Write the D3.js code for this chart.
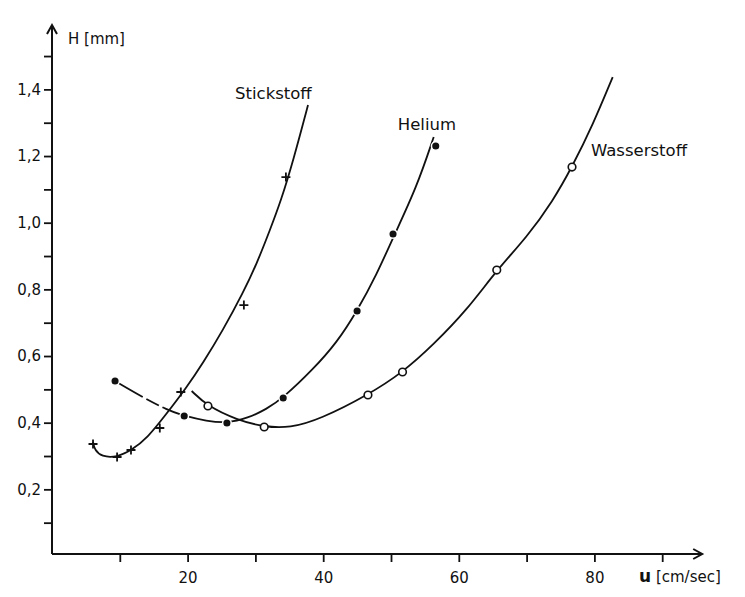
<!DOCTYPE html>
<html><head><meta charset="utf-8">
<script src="https://cdn.jsdelivr.net/npm/d3@7"></script>
<style>body{margin:0;background:#fff}svg{display:block}</style>
</head><body>
<script>
// ---- data ----
const xTicks = [10,20,30,40,50,60,70,80,90];
const xTickLabels = {20:"20",40:"40",60:"60",80:"80"};
const yTicks = [0.1,0.2,0.3,0.4,0.5,0.6,0.7,0.8,0.9,1.0,1.1,1.2,1.3,1.4,1.5];
const yTickLabels = {0.2:"0,2",0.4:"0,4",0.6:"0,6",0.8:"0,8",1.0:"1,0",1.2:"1,2",1.4:"1,4"};

// measured points
const stickstoffPts = [[6.05,0.336],[9.6,0.297],[11.65,0.318],[15.9,0.384],[19.0,0.492],[28.3,0.753],[34.5,1.137]];
const heliumPts = [[9.3,0.525],[19.5,0.42],[25.8,0.399],[34.1,0.474],[45.0,0.735],[50.3,0.966],[56.6,1.23]];
const wasserstoffPts = [[23.0,0.45],[31.3,0.387],[46.6,0.483],[51.7,0.552],[65.6,0.858],[76.7,1.167]];

// hand-drawn fitted curves
const stickstoffCurve = [[6.05,0.342],[6.3,0.318],[7.3,0.298],[9.59,0.296],[11.8,0.318],[14.16,0.357],[16.4,0.414],[19.9,0.507],[22.27,0.579],[25.22,0.678],[28.17,0.789],[30.24,0.879],[32.15,0.978],[33.8,1.068],[35.5,1.18],[37.76,1.353]];
const heliumCurve = [[9.29,0.525],[13.4,0.476],[17.0,0.438],[19.5,0.42],[22.8,0.405],[25.8,0.398],[28.9,0.414],[31.6,0.44],[34.07,0.474],[38.5,0.56],[42.0,0.64],[45.0,0.735],[47.9,0.845],[50.3,0.955],[53.8,1.107],[56.3,1.257]];
const wasserstoffCurve = [[20.6,0.495],[22.9,0.45],[27.3,0.408],[31.3,0.387],[35.1,0.384],[39.5,0.41],[46.6,0.483],[51.8,0.552],[56.2,0.633],[61.2,0.738],[65.6,0.858],[70.06,0.957],[73.9,1.066],[76.7,1.167],[79.8,1.295],[82.7,1.437]];

const seriesLabels = [
  {name:"Stickstoff", x:27.0, y:1.37},
  {name:"Helium", x:51.0, y:1.278},
  {name:"Wasserstoff", x:79.5, y:1.20}
];

// ---- drawing ----
const W=745,H=597;
const svg=d3.select("body").append("svg").attr("width",W).attr("height",H);
const x=d3.scaleLinear().domain([0,10]).range([52,119.8]);
const y=d3.scaleLinear().domain([0,1]).range([556,222.7]);
const font="'DejaVu Sans', sans-serif";
const ink="#111";

const xMax=95.9, yMax=1.593;
// axes
const axes=svg.append("g").attr("stroke",ink).attr("stroke-width",2).attr("fill","none");
axes.append("line").attr("x1",x(0)).attr("x2",x(xMax)).attr("y1",y(0)-2).attr("y2",y(0)-2);
axes.append("line").attr("x1",x(0)).attr("x2",x(0)).attr("y1",y(0)-2).attr("y2",y(yMax));
// arrowheads
const ax=x(xMax), ay=y(0)-2;
axes.append("path").attr("d",`M${ax-9},${ay-5}L${ax},${ay}L${ax-9},${ay+5}`);
const bx=x(0), by=y(yMax);
axes.append("path").attr("d",`M${bx-5},${by+9}L${bx},${by}L${bx+5},${by+9}`);

// x ticks
const xAxis=d3.axisBottom(x).tickValues(xTicks).tickSize(8).tickFormat(d=>xTickLabels[d]||"");
const gx=svg.append("g").attr("transform",`translate(0,${y(0)-2})`).call(xAxis);
gx.select(".domain").remove();
gx.selectAll("line").attr("stroke",ink).attr("stroke-width",1.8);
gx.selectAll("text").attr("font-family",font).attr("font-size",15).attr("fill",ink).attr("dy","1.2em");

// y ticks
const yAxis=d3.axisLeft(y).tickValues(yTicks).tickSize(8).tickPadding(3).tickFormat(d=>yTickLabels[Math.round(d*10)/10]||"");
const gy=svg.append("g").attr("transform",`translate(${x(0)},0)`).call(yAxis);
gy.select(".domain").remove();
gy.selectAll("line").attr("stroke",ink).attr("stroke-width",1.8);
gy.selectAll("text").attr("font-family",font).attr("font-size",15).attr("fill",ink);

// axis titles
svg.append("text").attr("x",x(0)+16).attr("y",44).attr("font-family",font).attr("font-size",15).attr("fill",ink).text("H [mm]");
const ut=svg.append("text").attr("x",639).attr("y",582).attr("font-family",font).attr("font-size",15).attr("fill",ink);
ut.append("tspan").attr("font-weight","bold").attr("font-size",17).text("u");
ut.append("tspan").text(" [cm/sec]");

// curves
const line=d3.line().x(d=>x(d[0])).y(d=>y(d[1])).curve(d3.curveBasis);
const cg=svg.append("g").attr("fill","none").attr("stroke",ink).attr("stroke-width",1.8);
cg.append("path").attr("d",line(stickstoffCurve));
const hp=cg.append("path").attr("d",line(heliumCurve));
const L=hp.node().getTotalLength();
hp.attr("stroke-dasharray",`32,4,14,4,22,3,${L}`);
cg.append("path").attr("d",line(wasserstoffCurve));

// markers
const mg=svg.append("g");
mg.selectAll(".plus").data(stickstoffPts).join("path")
  .attr("d",d=>`M${x(d[0])-4.5},${y(d[1])}h9M${x(d[0])},${y(d[1])-4.5}v9`)
  .attr("stroke",ink).attr("stroke-width",1.8);
mg.selectAll(".fill").data(heliumPts).join("circle")
  .attr("cx",d=>x(d[0])).attr("cy",d=>y(d[1])).attr("r",4.3)
  .attr("fill",ink).attr("stroke","#fff").attr("stroke-width",1.5);
mg.selectAll(".open").data(wasserstoffPts).join("circle")
  .attr("cx",d=>x(d[0])).attr("cy",d=>y(d[1])).attr("r",3.8)
  .attr("fill","#fff").attr("stroke",ink).attr("stroke-width",1.6);

// series labels
svg.selectAll(".sl").data(seriesLabels).join("text")
  .attr("x",d=>x(d.x)).attr("y",d=>y(d.y))
  .attr("font-family",font).attr("font-size",16.5).attr("fill",ink)
  .text(d=>d.name);
</script>
</body></html>
